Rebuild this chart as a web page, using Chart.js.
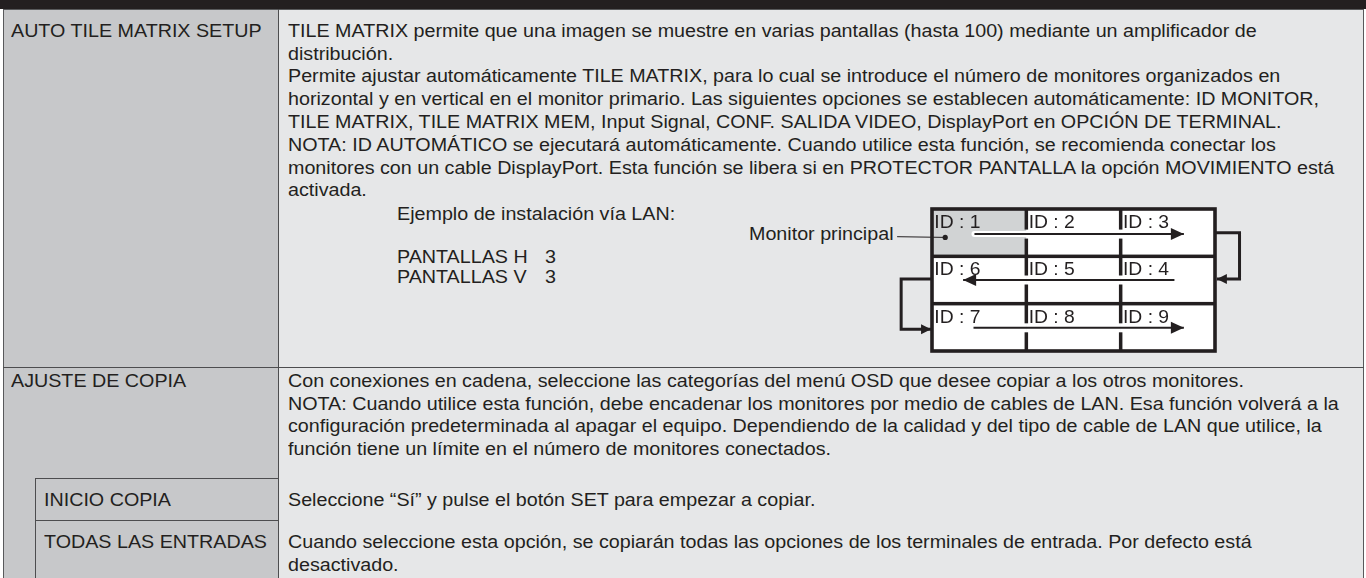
<!DOCTYPE html>
<html><head><meta charset="utf-8">
<script src="https://cdn.jsdelivr.net/npm/chart.js@4.4.1/dist/chart.umd.min.js"></script>
<style>
html,body{margin:0;padding:0;background:#fff;}
body{width:1366px;height:578px;overflow:hidden;position:relative;font-family:"Liberation Sans",Arial,Helvetica,sans-serif;color:#231f20;}
.box{position:absolute;}
.t{position:absolute;white-space:pre;font-size:17.5px;line-height:22.8px;transform-origin:0 0;}
#cv{position:absolute;left:700px;top:195px;}
</style></head>
<body>
<div class="box" style="left:0;top:0;width:1366px;height:9px;background:#231f20"></div>
<div class="box" style="left:3px;top:9px;width:1361px;height:580px;background:#e6e7e8;border:1px solid #58595b;box-sizing:border-box"></div>
<div class="box" style="left:4px;top:10px;width:274px;height:570px;background:#c7c8ca"></div>
<div class="box" style="left:278px;top:9px;width:1px;height:570px;background:#4d4d4f"></div>
<div class="box" style="left:3px;top:367px;width:1361px;height:1px;background:#4d4d4f"></div>
<div class="box" style="left:35px;top:478px;width:243px;height:1px;background:#4d4d4f"></div>
<div class="box" style="left:35px;top:520px;width:243px;height:1px;background:#4d4d4f"></div>
<div class="box" style="left:35px;top:478px;width:1px;height:110px;background:#4d4d4f"></div>
<div id="texts"></div>
<canvas id="cv" width="570" height="170"></canvas>
<script>
// ---- table text ----
const leftLabels = ["AUTO TILE MATRIX SETUP", "AJUSTE DE COPIA", "INICIO COPIA", "TODAS LAS ENTRADAS"];
const row1Lines = [
  "TILE MATRIX permite que una imagen se muestre en varias pantallas (hasta 100) mediante un amplificador de",
  "distribución.",
  "Permite ajustar automáticamente TILE MATRIX, para lo cual se introduce el número de monitores organizados en",
  "horizontal y en vertical en el monitor primario. Las siguientes opciones se establecen automáticamente: ID MONITOR,",
  "TILE MATRIX, TILE MATRIX MEM, Input Signal, CONF. SALIDA VIDEO, DisplayPort en OPCIÓN DE TERMINAL.",
  "NOTA: ID AUTOMÁTICO se ejecutará automáticamente. Cuando utilice esta función, se recomienda conectar los",
  "monitores con un cable DisplayPort. Esta función se libera si en PROTECTOR PANTALLA la opción MOVIMIENTO está",
  "activada."
];
const exampleTitle = "Ejemplo de instalación vía LAN:";
const settingNames = ["PANTALLAS H", "PANTALLAS V"];
const settingValues = ["3", "3"];
const row2Lines = [
  "Con conexiones en cadena, seleccione las categorías del menú OSD que desee copiar a los otros monitores.",
  "NOTA: Cuando utilice esta función, debe encadenar los monitores por medio de cables de LAN. Esa función volverá a la",
  "configuración predeterminada al apagar el equipo. Dependiendo de la calidad y del tipo de cable de LAN que utilice, la",
  "función tiene un límite en el número de monitores conectados."
];
const row3Lines = ["Seleccione “Sí” y pulse el botón SET para empezar a copiar."];
const row4Lines = [
  "Cuando seleccione esta opción, se copiarán todas las opciones de los terminales de entrada. Por defecto está",
  "desactivado."
];
const diagramLabel = "Monitor principal";

// ---- diagram data (grid units: columns / rows of monitors) ----
const monitorIds = [[1, 2, 3], [6, 5, 4], [7, 8, 9]];
const primaryId = 1;
const arrowRow1 = [[0.45, 0.53], [2.67, 0.53]];
const arrowRow2 = [[2.57, 1.50], [0.33, 1.50]];
const arrowRow3 = [[0.44, 2.51], [2.67, 2.51]];
const linkRight = [[3.0, 0.50], [3.26, 0.50], [3.26, 1.48], [3.02, 1.48]];
const linkLeft = [[0.0, 1.48], [-0.327, 1.48], [-0.327, 2.54], [-0.01, 2.54]];
const leader = [[-0.37, 0.585], [0.14, 0.60]];

const FONT = '17.5px "Liberation Sans", Arial, sans-serif';
const mc = document.createElement('canvas').getContext('2d');
mc.font = FONT;
const K = 251 / mc.measureText(leftLabels[0]).width;

const holder = document.getElementById('texts');
function put(txt, x, cy) {
  const d = document.createElement('div');
  d.className = 't';
  d.textContent = txt;
  d.style.left = x + 'px';
  d.style.top = (cy - 11.2) + 'px';
  d.style.transform = 'scaleX(' + K + ')';
  holder.appendChild(d);
}
const LH = 22.8;
put(leftLabels[0], 10.5, 31);
row1Lines.forEach((s, i) => put(s, 288, 31 + LH * i));
put(exampleTitle, 397, 214);
settingNames.forEach((s, i) => { put(s, 397, 257 + 20 * i); put(settingValues[i], 545, 257 + 20 * i); });
const R2 = 381;
put(leftLabels[1], 10.5, R2);
row2Lines.forEach((s, i) => put(s, 288, R2 + LH * i));
put(leftLabels[2], 44, 500);
row3Lines.forEach((s, i) => put(s, 288, 500 + LH * i));
put(leftLabels[3], 44, 542);
row4Lines.forEach((s, i) => put(s, 288, 542 + LH * i));
put(diagramLabel, 749, 234);

// ---- chart ----
const pts = a => a.map(p => ({x: p[0], y: p[1]}));
const rowArrows = [arrowRow1, arrowRow2, arrowRow3];
const links = [linkRight, linkLeft];

const gridPlugin = {
  id: 'grid',
  beforeDatasetsDraw(chart) {
    const ctx = chart.ctx, xs = chart.scales.x, ys = chart.scales.y;
    const X = v => xs.getPixelForValue(v), Y = v => ys.getPixelForValue(v);
    const nR = monitorIds.length, nC = monitorIds[0].length;
    ctx.save();
    for (let r = 0; r < nR; r++) for (let c = 0; c < nC; c++) {
      ctx.fillStyle = monitorIds[r][c] === primaryId ? '#d1d3d4' : '#ffffff';
      ctx.fillRect(X(c), Y(r), X(c + 1) - X(c), Y(r + 1) - Y(r));
    }
    ctx.fillStyle = '#231f20';
    for (let r = 1; r < nR; r++) ctx.fillRect(X(0), Y(r) - 1.75, X(nC) - X(0), 3.5);
    for (let c = 1; c < nC; c++) {
      for (let r = 0; r < nR; r++) {
        const ay = Y(rowArrows[r][0][1]);
        ctx.fillRect(X(c) - 1.75, Y(r), 3.5, ay - 4.5 - Y(r));
        ctx.fillRect(X(c) - 1.75, ay + 4.5, 3.5, Y(r + 1) - ay - 4.5);
      }
    }
    ctx.strokeStyle = '#231f20';
    ctx.lineWidth = 3.6;
    ctx.strokeRect(X(0), Y(0), X(nC) - X(0), Y(nR) - Y(0));
    ctx.font = FONT;
    ctx.textBaseline = 'alphabetic';
    for (let r = 0; r < nR; r++) for (let c = 0; c < nC; c++) {
      ctx.save();
      ctx.translate(X(c) + 2.3, Y(r) + 19);
      ctx.scale(K * 0.98, 1);
      ctx.fillText('ID : ' + monitorIds[r][c], 0, 0);
      ctx.restore();
    }
    ctx.restore();
  },
  afterDatasetsDraw(chart) {
    const ctx = chart.ctx, xs = chart.scales.x, ys = chart.scales.y;
    const X = v => xs.getPixelForValue(v), Y = v => ys.getPixelForValue(v);
    function head(path, L, W) {
      const a = path[path.length - 2], b = path[path.length - 1];
      const ang = Math.atan2(Y(b[1]) - Y(a[1]), X(b[0]) - X(a[0]));
      ctx.save();
      ctx.translate(X(b[0]), Y(b[1]));
      ctx.rotate(ang);
      ctx.beginPath();
      ctx.moveTo(0, 0); ctx.lineTo(-L, -W); ctx.lineTo(-L, W); ctx.closePath();
      ctx.fillStyle = '#231f20';
      ctx.fill();
      ctx.restore();
    }
    rowArrows.forEach(p => head(p, 13, 6));
    links.forEach(p => head(p, 10, 5));
  }
};

const datasets = [];
rowArrows.forEach(a => datasets.push({data: pts(a), borderColor: '#231f20', borderWidth: 2, pointRadius: 0, clip: false, order: 1}));
links.forEach(a => datasets.push({data: pts(a), borderColor: '#231f20', borderWidth: 3, borderJoinStyle: 'miter', pointRadius: 0, clip: false, order: 1}));
datasets.push({data: pts(leader), borderColor: '#231f20', borderWidth: 1, clip: false, order: 1,
  pointRadius: ctx => ctx.dataIndex === leader.length - 1 ? 2.6 : 0,
  pointBackgroundColor: '#231f20', pointBorderWidth: 0});
// white halo under the first row arrow (drawn first, below the black line)
datasets.push({data: pts(arrowRow1), borderColor: '#ffffff', borderWidth: 6, borderCapStyle: 'round', pointRadius: 0, clip: false, order: 2});

new Chart(document.getElementById('cv'), {
  type: 'scatter',
  data: {datasets: datasets.map(d => Object.assign({showLine: true, tension: 0}, d))},
  options: {
    responsive: false,
    animation: false,
    events: [],
    layout: {padding: {left: 232, right: 55, top: 14, bottom: 14}},
    plugins: {legend: {display: false}, tooltip: {enabled: false}},
    scales: {
      x: {type: 'linear', min: 0, max: 3, display: false},
      y: {type: 'linear', min: 0, max: 3, reverse: true, display: false}
    }
  },
  plugins: [gridPlugin]
});
</script>
</body></html>
